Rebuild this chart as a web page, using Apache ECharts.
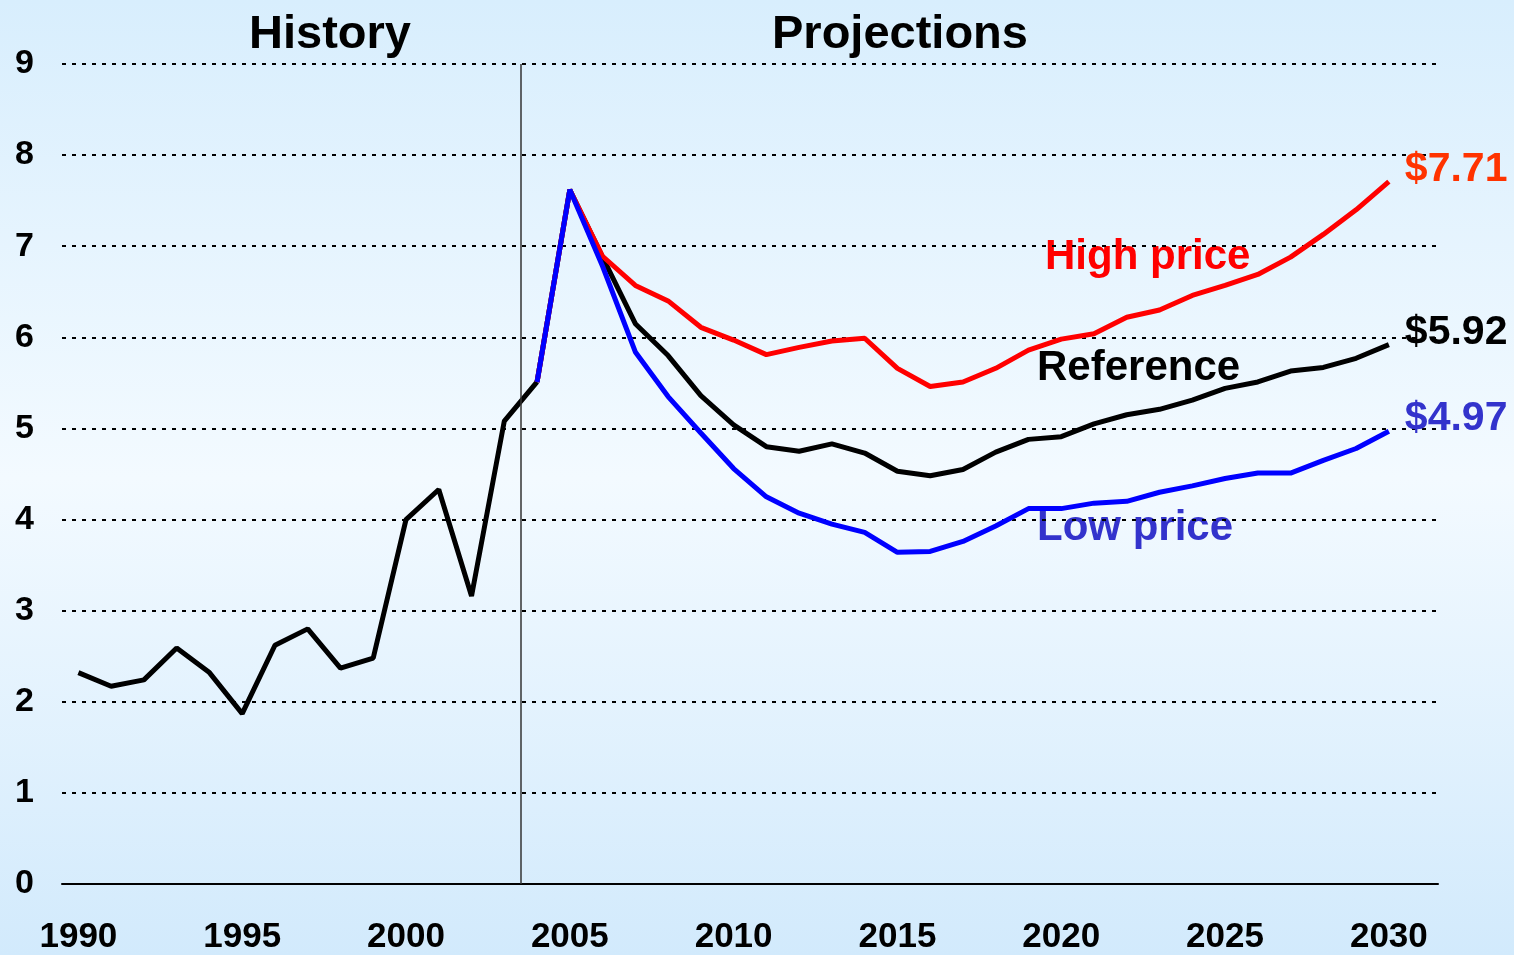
<!DOCTYPE html>
<html>
<head>
<meta charset="utf-8">
<script src="https://cdn.jsdelivr.net/npm/echarts@6/dist/echarts.min.js"></script>
<style>
  html, body { margin: 0; padding: 0; }
  #main { width: 1514px; height: 955px; }
</style>
</head>
<body>
<div id="main"></div>
<script>
var years = ['1990', '1991', '1992', '1993', '1994', '1995', '1996', '1997', '1998', '1999',
    '2000', '2001', '2002', '2003', '2004', '2005', '2006', '2007', '2008', '2009',
    '2010', '2011', '2012', '2013', '2014', '2015', '2016', '2017', '2018', '2019',
    '2020', '2021', '2022', '2023', '2024', '2025', '2026', '2027', '2028', '2029',
    '2030', '2031'];

// 1990-2004
var historyYears = years.slice(0, 15);
var historyValues = [2.32, 2.17, 2.24, 2.59, 2.32, 1.87, 2.62, 2.80, 2.37, 2.48,
    4.00, 4.33, 3.16, 5.08, 5.51];

// 2004-2030
var projYears = years.slice(14, 41);
var referenceValues = [5.51, 7.62, 6.88, 6.15, 5.80, 5.36, 5.04, 4.80, 4.75, 4.83,
    4.73, 4.53, 4.48, 4.55, 4.74, 4.88, 4.91, 5.05, 5.15, 5.21,
    5.31, 5.44, 5.51, 5.63, 5.67, 5.77, 5.92];
var highValues = [5.51, 7.62, 6.89, 6.57, 6.40, 6.11, 5.97, 5.81, 5.89, 5.96,
    5.99, 5.66, 5.46, 5.51, 5.66, 5.86, 5.98, 6.04, 6.22, 6.30,
    6.46, 6.57, 6.69, 6.88, 7.13, 7.40, 7.71];
var lowValues = [5.51, 7.62, 6.78, 5.84, 5.35, 4.95, 4.56, 4.25, 4.07, 3.95,
    3.86, 3.64, 3.65, 3.76, 3.93, 4.12, 4.12, 4.18, 4.20, 4.30,
    4.37, 4.45, 4.51, 4.51, 4.65, 4.78, 4.97];

var font = "'Liberation Sans', Arial, sans-serif";

function pairs(xs, vs) {
    return vs.map(function (v, i) { return [xs[i], v]; });
}

function endLabel(color) {
    return {
        show: true,
        formatter: function (p) { return '$' + p.value[1].toFixed(2); },
        color: color,
        fontSize: 41,
        fontWeight: 'bold',
        fontFamily: font,
        distance: 16,
        offset: [0, -12]
    };
}

(function () {
    var myChart = echarts.init(document.querySelector('#main'));
    myChart.setOption({
        animation: false,
        backgroundColor: {
            type: 'linear', x: 0, y: 0, x2: 0, y2: 1,
            colorStops: [
                { offset: 0, color: '#d8eefd' },
                { offset: 0.5, color: '#f3faff' },
                { offset: 1, color: '#d2eafc' }
            ]
        },
        grid: {
            left: 62,
            right: 76,
            top: 64,
            bottom: 68
        },
        xAxis: [{
            type: 'category',
            data: years,
            boundaryGap: true,
            axisLine: { lineStyle: { color: '#000', width: 2 } },
            axisTick: {
                interval: 4,
                alignWithLabel: false,
                length: 10,
                lineStyle: { color: '#000', width: 2 }
            },
            axisLabel: {
                interval: 4,
                margin: 36,
                color: '#000',
                fontSize: 35,
                fontWeight: 'bold',
                fontFamily: font
            },
            splitLine: { show: false }
        }, {
            type: 'value',
            min: 0,
            max: 42,
            show: false
        }],
        yAxis: [{
            type: 'value',
            min: 0,
            max: 9,
            interval: 1,
            axisLine: { show: false },
            axisTick: { show: false },
            axisLabel: {
                margin: 28,
                color: '#000',
                fontSize: 34,
                fontWeight: 'bold',
                fontFamily: font
            },
            splitLine: {
                lineStyle: { color: '#000', width: 2, type: [4, 6] }
            }
        }],
        series: [{
            name: 'History',
            type: 'line',
            data: pairs(historyYears, historyValues),
            symbol: 'none',
            lineStyle: { color: '#000', width: 5 },
            z: 3
        }, {
            name: 'Reference',
            type: 'line',
            data: pairs(projYears, referenceValues),
            symbol: 'none',
            lineStyle: { color: '#000', width: 5 },
            endLabel: endLabel('#000'),
            z: 3
        }, {
            name: 'High price',
            type: 'line',
            data: pairs(projYears, highValues),
            symbol: 'none',
            lineStyle: { color: '#ff0000', width: 5 },
            endLabel: endLabel('#ff3300'),
            z: 4
        }, {
            name: 'Low price',
            type: 'line',
            data: pairs(projYears, lowValues),
            symbol: 'none',
            lineStyle: { color: '#0000ff', width: 5 },
            endLabel: endLabel('#3333cc'),
            z: 5
        }, {
            name: 'divider',
            type: 'line',
            xAxisIndex: 1,
            data: [],
            markLine: {
                silent: true,
                symbol: 'none',
                label: { show: false },
                lineStyle: { color: '#333', width: 1.5, type: 'solid' },
                data: [{ xAxis: 14 }]
            }
        }],
        graphic: [{
            type: 'text', left: 249, top: 12,
            style: { text: 'History', fill: '#000', font: 'bold 47px ' + font }
        }, {
            type: 'text', left: 772, top: 12,
            style: { text: 'Projections', fill: '#000', font: 'bold 47px ' + font }
        }, {
            type: 'text', left: 1045, top: 236,
            style: { text: 'High price', fill: '#ff0000', font: 'bold 42px ' + font }
        }, {
            type: 'text', left: 1037, top: 347,
            style: { text: 'Reference', fill: '#000', font: 'bold 42px ' + font }
        }, {
            type: 'text', left: 1037, top: 507,
            style: { text: 'Low price', fill: '#3333cc', font: 'bold 42px ' + font }
        }]
    });
})();
</script>
</body>
</html>
